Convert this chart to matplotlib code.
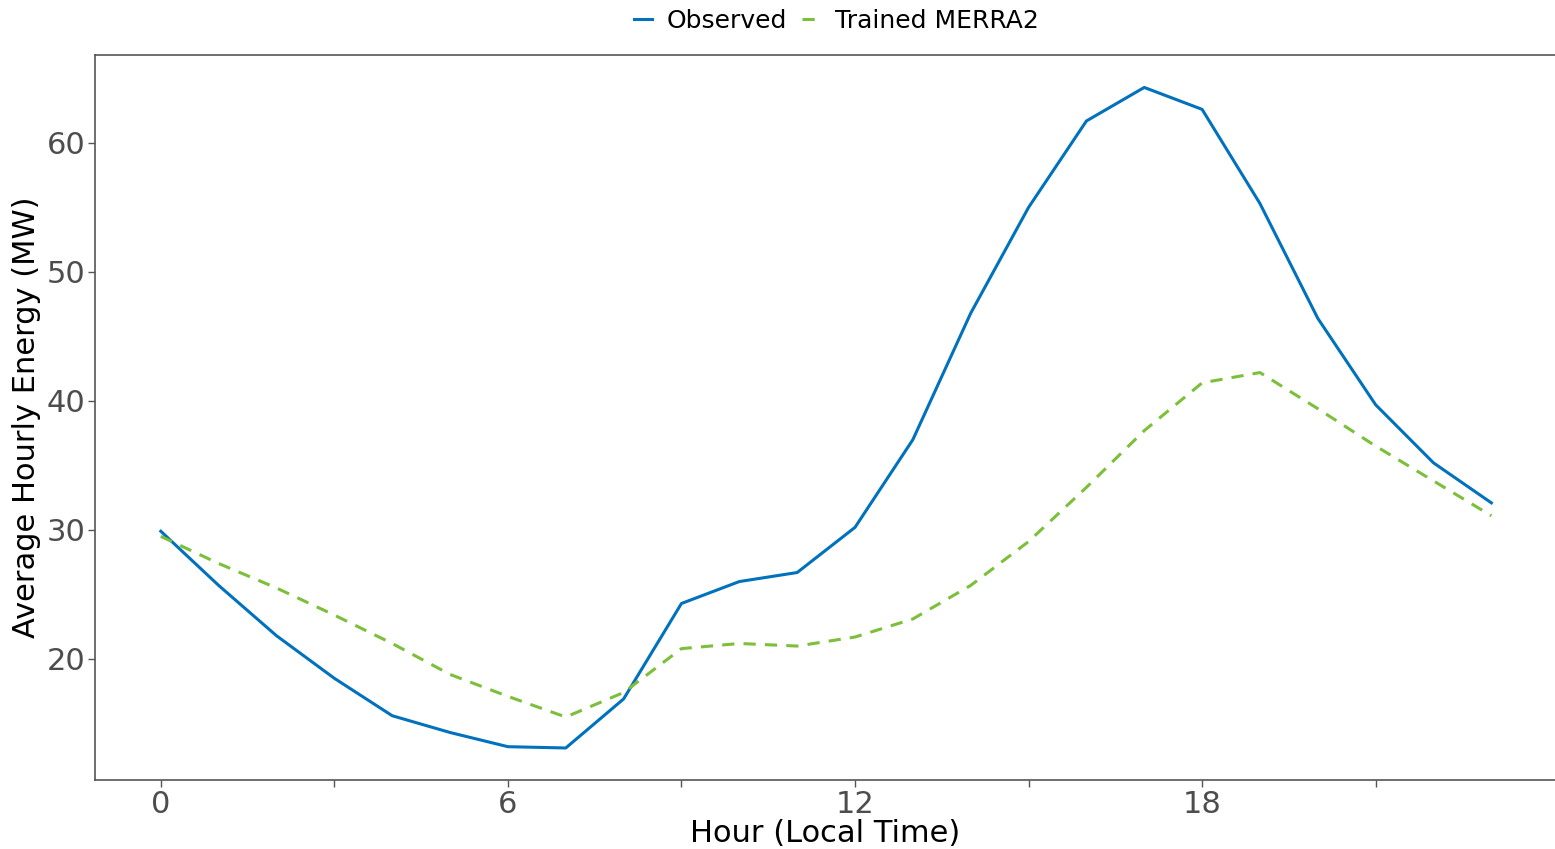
import matplotlib
matplotlib.use("Agg")
import matplotlib.pyplot as plt

hours = list(range(24))
observed = [29.9, 25.7, 21.8, 18.5, 15.6, 14.3, 13.2, 13.1, 16.9, 24.3, 26.0, 26.7,
            30.2, 37.0, 46.8, 55.0, 61.7, 64.3, 62.6, 55.3, 46.4, 39.7, 35.2, 32.1]
trained = [29.5, 27.4, 25.5, 23.4, 21.2, 18.8, 17.1, 15.5, 17.4, 20.8, 21.2, 21.0,
           21.7, 23.1, 25.7, 29.1, 33.3, 37.7, 41.4, 42.2, 39.4, 36.5, 33.8, 31.1]
xticks = [0, 6, 12, 18]
xminor = [3, 9, 15, 21]
yticks = [20, 30, 40, 50, 60]

fig = plt.figure(figsize=(15.55, 8.49), dpi=100)
ax = fig.add_axes([0.061, 0.081, 0.939, 0.854])

ax.plot(hours, observed, color="#0072BD", lw=2.2, label="Observed")
ax.plot(hours, trained, color="#7CBF3A", lw=2.2, ls=(0, (4, 3)), label="Trained MERRA2")

ax.set_xlim(-1.14, 24.1)
ax.set_ylim(10.6, 66.8)
ax.set_xticks(xticks)
ax.set_xticks(xminor, minor=True)
ax.set_yticks(yticks)

ax.tick_params(axis="both", which="both", direction="out", length=5, width=1,
               color="#555555", labelcolor="#4d4d4d", labelsize=22, pad=2)

for s in ["left", "bottom", "top"]:
    ax.spines[s].set_color("#555555")
    ax.spines[s].set_linewidth(1.2)
ax.spines["right"].set_visible(False)

ax.set_xlabel("Hour (Local Time)", fontsize=22, labelpad=0)
ax.set_ylabel("Average Hourly Energy (MW)", fontsize=22, labelpad=4)

ax.legend(loc="lower center", bbox_to_anchor=(0.508, 1.0), ncol=2, frameon=False,
          handlelength=0.7, fontsize=18, columnspacing=0.6, handletextpad=0.6)

fig.savefig("out.png", dpi=100)
